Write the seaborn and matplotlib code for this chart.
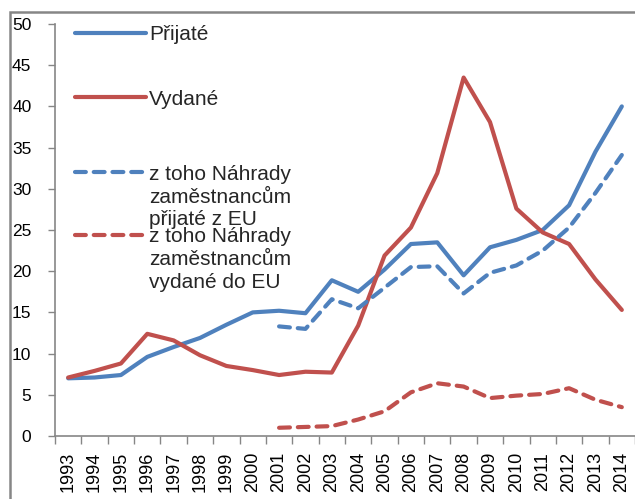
import numpy as np
import pandas as pd
import matplotlib
matplotlib.use("Agg")
import matplotlib.pyplot as plt
import seaborn as sns
from matplotlib.patches import Rectangle
from matplotlib.ticker import FixedLocator

# ==== DATA ====
years = list(range(1993, 2015))
prijate = [7.0, 7.1, 7.4, 9.6, 10.8, 11.9, 13.5, 15.0, 15.2, 14.9, 18.9, 17.5,
           20.2, 23.3, 23.5, 19.5, 22.9, 23.8, 25.0, 28.0, 34.5, 40.0]
vydane = [7.1, 7.9, 8.8, 12.4, 11.6, 9.8, 8.5, 8.0, 7.4, 7.8, 7.7, 13.4,
          21.9, 25.3, 31.9, 43.5, 38.1, 27.6, 24.7, 23.3, 19.0, 15.3]
eu_years = list(range(2001, 2015))
prijate_eu = [13.3, 13.0, 16.6, 15.5, 18.0, 20.5, 20.6, 17.3, 19.8, 20.7, 22.5, 25.3, 29.5, 34.1]
vydane_eu = [1.0, 1.1, 1.2, 2.0, 3.0, 5.3, 6.4, 6.0, 4.6, 4.9, 5.1, 5.8, 4.4, 3.5]

labels = ["Přijaté", "Vydané",
          "z toho Náhrady\nzaměstnancům\npřijaté z EU",
          "z toho Náhrady\nzaměstnancům\nvydané do EU"]

BLUE = "#4F81BD"
RED = "#C0504D"
GREY = "#868686"

sns.set_style("white")
plt.rcParams['font.family'] = ['Liberation Sans', 'DejaVu Sans']

fig = plt.figure(figsize=(6.35, 4.99), dpi=100)
ax = fig.add_axes([55 / 635, 1 - 436 / 499, 580 / 635, 412 / 499])

lw = 3.0
sns.lineplot(x=years, y=prijate, color=BLUE, lw=lw, ax=ax, label=labels[0],
             solid_capstyle="round")
sns.lineplot(x=years, y=vydane, color=RED, lw=lw, ax=ax, label=labels[1],
             solid_capstyle="round")
sns.lineplot(x=eu_years, y=prijate_eu, color=BLUE, lw=lw, ax=ax, label=labels[2])
sns.lineplot(x=eu_years, y=vydane_eu, color=RED, lw=lw, ax=ax, label=labels[3])
for ln in ax.get_lines()[2:4]:
    ln.set_dashes((2.6, 1.9))
    ln.set_dash_capstyle("round")

ax.set_xlim(1992.5, 2014.5)
ax.set_ylim(0, 50)
ax.set_yticks(np.arange(0, 51, 5))
ax.set_xticks(years)
ax.set_xticklabels([str(y) for y in years], rotation=90)
ax.xaxis.set_minor_locator(FixedLocator(np.arange(1992.5, 2015, 1.0)))
ax.tick_params(axis="x", which="major", length=0, pad=11.5, labelsize=13, colors="black")
ax.tick_params(axis="x", which="minor", length=6, width=1, color=GREY, direction="out", bottom=True)
ax.tick_params(axis="y", which="major", length=5, width=1, color=GREY, direction="out",
               left=True, labelsize=12.5, labelcolor="black", pad=12)

for side in ["top", "right"]:
    ax.spines[side].set_visible(False)
for side in ["left", "bottom"]:
    ax.spines[side].set_color(GREY)
    ax.spines[side].set_linewidth(1.2)
ax.grid(False)

handles = ax.get_lines()
if ax.get_legend():
    ax.get_legend().remove()

fs = 15
leg1 = ax.legend(handles[:2], labels[:2], loc="upper left", bbox_to_anchor=(0.0345, 0.998),
                 frameon=False, fontsize=fs, handlelength=3.4, handletextpad=0.15,
                 labelspacing=2.2, borderpad=0, borderaxespad=0)
ax.add_artist(leg1)
leg2 = ax.legend(handles[2:4], labels[2:4], loc="upper left", bbox_to_anchor=(0.0345, 0.658),
                 frameon=False, fontsize=fs, handlelength=3.4, handletextpad=0.15,
                 labelspacing=-0.1, borderpad=0, borderaxespad=0)
for t in leg2.get_texts():
    t.set_linespacing(1.25)
# handle next to the first line of a multi-line label
for col in leg2._legend_handle_box.get_children():
    for item in col.get_children():
        item.align = "top"

# outer chart border
fig.add_artist(Rectangle((10 / 635, -0.1), 1.2, (499 - 12) / 499 + 0.1,
                         transform=fig.transFigure, fill=False, edgecolor=GREY,
                         lw=1.8, clip_on=False))

fig.savefig("out.png", dpi=100, facecolor="white")
